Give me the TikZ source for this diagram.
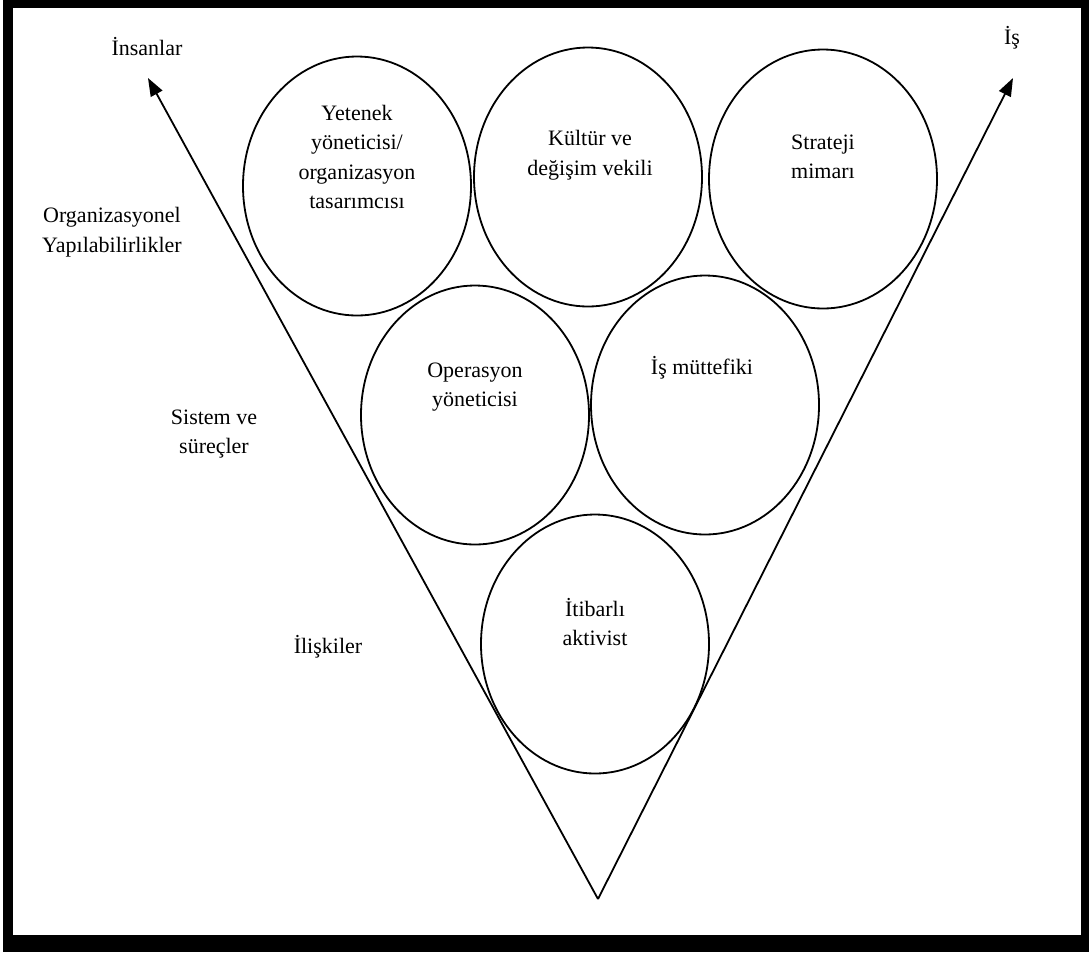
\documentclass[tikz,border=0pt]{standalone}
\usepackage{fontspec}
\setmainfont{Liberation Serif}
\usetikzlibrary{shapes.geometric,arrows.meta}
\tikzset{
  role/.style={ellipse,draw,line width=1.8pt,minimum width=228pt,minimum height=259pt,inner sep=0pt},
  txt/.style={align=center,inner sep=0pt,font=\fontsize{22}{29.5}\selectfont},
  axis/.style={line width=1.8pt,-{Triangle[length=18pt,width=13pt]}},
  vline/.style={line width=1.8pt}
}
\begin{document}
\begin{tikzpicture}[x=1pt,y=-1pt]
\useasboundingbox (0,0) rectangle (1089,954);
% frame
\fill[black] (3,0) rectangle (1089,952);
\fill[white] (13,8) rectangle (1081,935);
% circles
\node[role] (c1) at (357,186) {};
\node[role] (c2) at (588,177) {};
\node[role] (c3) at (823,179) {};
\node[role] (c4) at (475,415) {};
\node[role] (c5) at (705,405) {};
\node[role] (c6) at (595,644) {};
% circle texts
\node[txt] (t1) at (357,157) {Yetenek\\yöneticisi/\\organizasyon\\tasarımcısı};
\node[txt] (t2) at (590,155) {Kültür ve\\değişim vekili};
\node[txt] (t3) at (823,157) {Strateji\\mimarı};
\node[txt] (t4) at (475,387) {Operasyon\\yöneticisi};
\node[txt] (t5) at (702,368) {İş müttefiki};
\node[txt] (t6) at (595,622) {İtibarlı\\aktivist};
% axes
\coordinate (apex) at (598,899);
\coordinate (tipL) at (148,78);
\coordinate (tipR) at (1013,78);
\draw[axis] (apex) -- (tipL);
\draw[axis] (apex) -- (tipR);
% side labels
\node[txt] (insan) at (147,47) {İnsanlar};
\node[txt] (is) at (1012,38) {İş};
\node[txt] (org) at (112,232) {Organizasyonel\\Yapılabilirlikler};
\node[txt] (sis) at (214,434) {Sistem ve\\süreçler};
\node[txt] (ilis) at (328,647) {İlişkiler};
\end{tikzpicture}
\end{document}
